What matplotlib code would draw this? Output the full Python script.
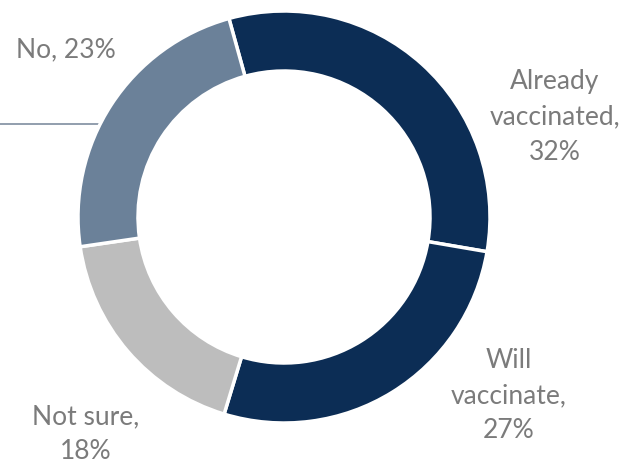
import numpy as np
import matplotlib.pyplot as plt

# survey answers, share of respondents (%)
labels = ['Already\nvaccinated,\n32%', 'Will\nvaccinate,\n27%', 'Not sure,\n18%', 'No, 23%']
values = [32, 27, 18, 23]
colors = ['#0c2d55', '#0c2d55', '#bdbdbd', '#6b8199']

# label anchor points in pixel coords (x, y from bottom)
label_xy = [(555, 348), (509, 69), (86, 31), (66, 415)]

W, H = 628, 465
fig = plt.figure(figsize=(W / 100, H / 100), dpi=100)
ax = fig.add_axes([0, 0, 1, 1])
ax.set_xlim(0, W)
ax.set_ylim(0, H)
ax.set_aspect('equal')
ax.axis('off')

cx, cy, R = 284, 248, 206
ax.pie(values, colors=colors, startangle=105.5, counterclock=False,
       center=(cx, cy), radius=R, frame=True,
       wedgeprops=dict(width=60, edgecolor='white', linewidth=2.5))
ax.set_xlim(0, W)
ax.set_ylim(0, H)
ax.axis('off')

for lab, (x, y) in zip(labels, label_xy):
    ax.text(x, y, lab, ha='center', va='center', fontsize=19,
            color='#7b7b7b', family='Lato', linespacing=1.5)

# leader line on the left
ax.plot([0, 98], [H - 124, H - 124], color='#7f8ea0', lw=1.2, zorder=0)

fig.savefig('out.png', dpi=100)
